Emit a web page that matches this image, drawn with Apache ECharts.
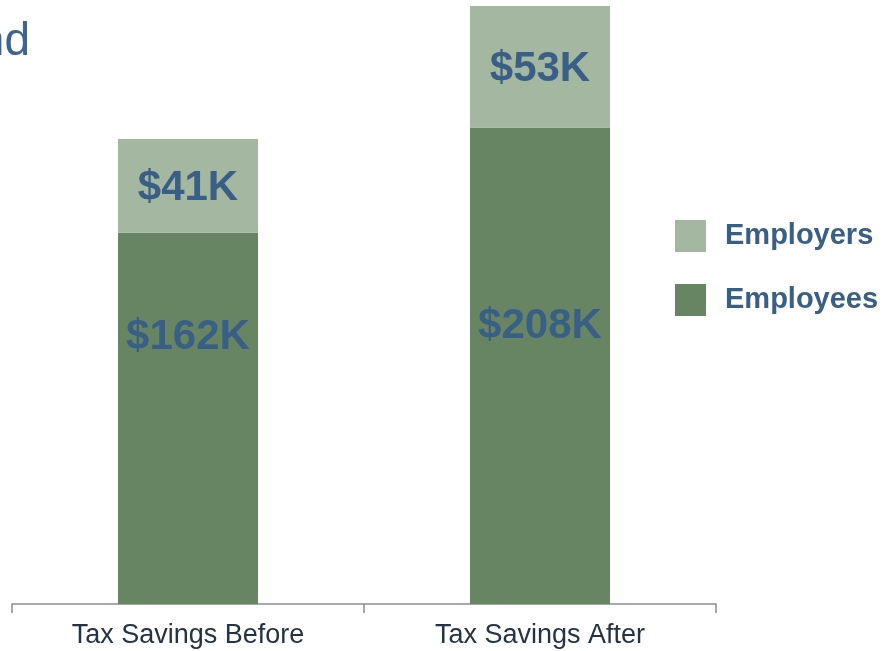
<!DOCTYPE html>
<html>
<head>
<meta charset="utf-8">
<style>
  html, body { margin: 0; padding: 0; background: #ffffff; }
  #chart { width: 884px; height: 651px; }
</style>
<script src="https://cdn.jsdelivr.net/npm/echarts@6/dist/echarts.min.js"></script>
</head>
<body>
<div id="chart"></div>
<script>
// Categories and stacked values (in $K)
const categories = ['Tax Savings Before', 'Tax Savings After'];
const employees = [162, 208];
const employers = [41, 53];
// Vertical nudges for the employee labels (px)
const employeeLabelShift = [-81, -39];

const labelColor = '#3a5f86';
const fontFamily = 'Liberation Sans, Arial, sans-serif';

const chart = echarts.init(document.getElementById('chart'), null, { renderer: 'canvas' });

const valueLabel = v => '$' + v + 'K';

chart.setOption({
  animation: false,
  backgroundColor: '#ffffff',
  graphic: [{
    type: 'text',
    x: 30,
    y: 65,
    style: {
      text: 'nd',
      align: 'right',
      verticalAlign: 'bottom',
      fill: '#3e6490',
      font: 'normal 46px ' + fontFamily
    }
  }],
  grid: { left: 12, right: 168, top: 6, bottom: 47, containLabel: false },
  legend: {
    orient: 'vertical',
    left: 670,
    top: 215,
    itemWidth: 31,
    itemHeight: 32,
    itemGap: 32,
    icon: 'rect',
    data: ['Employers', 'Employees'],
    textStyle: {
      color: labelColor,
      fontSize: 29,
      fontWeight: 'bold',
      fontFamily: fontFamily,
      padding: [0, 0, 0, 14]
    }
  },
  xAxis: {
    type: 'category',
    data: categories,
    axisLine: { show: true, lineStyle: { color: '#8c8c8c', width: 1.5 } },
    axisTick: { show: true, alignWithLabel: false, length: 9, lineStyle: { color: '#8c8c8c', width: 1.5 } },
    axisLabel: { color: '#243444', fontSize: 27, fontFamily: fontFamily, margin: 18 }
  },
  yAxis: {
    type: 'value',
    min: 0,
    max: 261,
    show: false,
    splitLine: { show: false }
  },
  series: [
    {
      name: 'Employees',
      type: 'bar',
      stack: 'total',
      barWidth: 140,
      itemStyle: { color: '#688563' },
      data: employees.map((v, i) => ({
        value: v,
        label: { offset: [0, employeeLabelShift[i]] }
      })),
      label: {
        show: true,
        position: 'inside',
        formatter: p => valueLabel(p.value),
        color: labelColor,
        fontSize: 42,
        fontWeight: 'bold',
        fontFamily: fontFamily
      }
    },
    {
      name: 'Employers',
      type: 'bar',
      stack: 'total',
      barWidth: 140,
      itemStyle: { color: '#a4b7a0' },
      data: employers,
      label: {
        show: true,
        position: 'inside',
        offset: [0, 3],
        formatter: p => valueLabel(p.value),
        color: labelColor,
        fontSize: 42,
        fontWeight: 'bold',
        fontFamily: fontFamily
      }
    }
  ]
});
</script>
</body>
</html>
